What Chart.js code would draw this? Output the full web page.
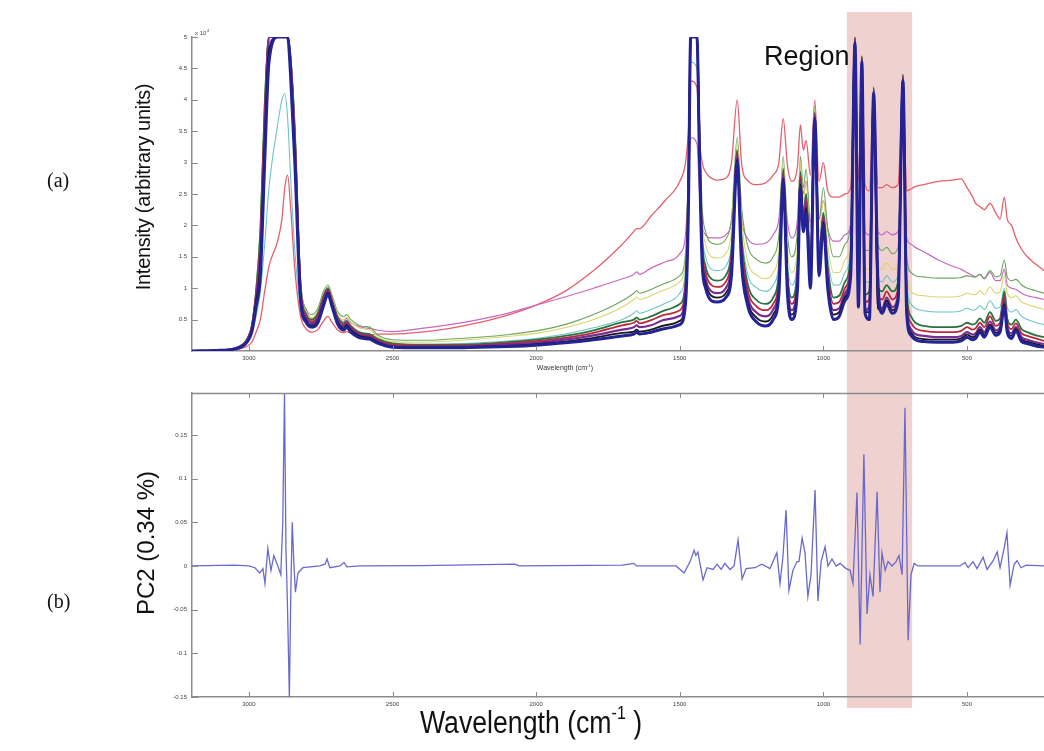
<!DOCTYPE html>
<html>
<head>
<meta charset="utf-8">
<script src="https://cdn.jsdelivr.net/npm/chart.js@4.4.1/dist/chart.umd.min.js"></script>
<style>
  html, body { margin: 0; padding: 0; background: #fff; }
  #wrap { position: relative; width: 1044px; height: 751px; overflow: hidden; background: #fff; }
  canvas { position: absolute; left: 0; }
  #specCanvas { top: 0; }
  #pcCanvas { top: 380px; }
  .lbl { position: absolute; white-space: nowrap; color: #111; line-height: 1; }
  .rot { transform: translate(-50%, -50%) rotate(-90deg); }
  .ctr { transform: translate(-50%, -50%); }
  .panel { font-family: "Liberation Serif", "Times New Roman", serif; font-size: 20px; }
  .sans { font-family: "Liberation Sans", Arial, sans-serif; }
  sup { font-size: 0.6em; vertical-align: 0.7em; line-height: 0; }
</style>
</head>
<body>
<div id="wrap">
  <canvas id="specCanvas" width="1044" height="380"></canvas>
  <canvas id="pcCanvas" width="1044" height="371"></canvas>

  <div class="lbl panel" style="left:47px; top:170px;">(a)</div>
  <div class="lbl panel" style="left:47px; top:591px;">(b)</div>

  <div class="lbl sans rot" style="left:143px; top:187px; font-size:20px; letter-spacing:-0.3px;">Intensity (arbitrary units)</div>
  <div class="lbl sans rot" style="left:146px; top:543px; font-size:24px;">PC2 (0.34 %)</div>

  <div class="lbl sans" style="left:764px; top:43px; font-size:27px;">Region</div>

  <div class="lbl sans ctr" style="left:565px; top:367px; font-size:7px; color:#333;">Wavelength (cm<sup>-1</sup>)</div>
  <div class="lbl sans" style="left:531px; top:722px; font-size:31px; transform:translate(-50%,-50%) scaleX(0.86);">Wavelength (cm<sup>-1</sup> )</div>
</div>

<script>
// ---- Raman spectra: shared wavenumber grid (cm^-1) ----
const WAVENUMBERS = [
  3198,3100,3050,3020,3005, 2990,2975,2960,2945,2930, 2900,2885,2875,2865,2855,
  2840,2820,2800,2780,2760, 2740,2725,2710,2690,2670, 2660,2645,2620,2600,2580,
  2550,2500,2400,2300,2200, 2100,2000,1900,1800,1700, 1660,1650,1640,1600,1550,
  1500,1480,1470,1462,1440, 1432,1422,1410,1390,1370, 1340,1320,1300,1285,1265,
  1230,1200,1175,1155,1140, 1125,1110,1090,1080,1070, 1060,1045,1030,1015,1000,
  985,965,945,925,905, 890,878,866,855,840, 825,810,795,780,760,
  740,723,710,695,680, 650,600,550,520,500, 480,470,455,440,420,
  400,385,370,360,345, 330,310,290,260,232
];

// intensities in units of 10^4 (clipped at detector saturation = 5)
const SPEC_NAVY = [
  0.00,0.01,0.03,0.08,0.15, 0.30,0.70,1.20,3.00,4.60, 5.00,5.00,5.00,5.00,4.40,
  3.00,0.80,0.45,0.38,0.45, 0.72,0.90,0.70,0.42,0.33, 0.38,0.30,0.22,0.20,0.19,
  0.12,0.06,0.05,0.05,0.06, 0.07,0.09,0.13,0.18,0.24, 0.27,0.30,0.27,0.30,0.36,
  0.42,0.75,2.20,5.00,5.00, 3.20,1.40,1.00,0.80,0.78, 0.85,1.20,3.00,1.40,0.75,
  0.45,0.40,0.50,0.90,2.70, 0.90,0.50,1.00,2.60,1.90, 2.20,1.00,3.70,1.20,2.00,
  1.00,0.50,0.55,0.80,1.20, 4.90,0.70,4.60,0.60,0.50, 4.10,1.10,0.60,0.75,0.60,
  0.80,4.30,0.60,0.25,0.18, 0.15,0.14,0.14,0.16,0.22, 0.18,0.20,0.30,0.22,0.38,
  0.25,0.30,0.70,0.30,0.20, 0.32,0.15,0.12,0.08,0.06
];
const SPEC_BLACK = [
  0.00,0.01,0.03,0.09,0.16, 0.33,0.78,1.40,3.30,4.80, 5.00,5.00,5.00,5.00,4.50,
  3.10,0.88,0.48,0.41,0.48, 0.76,0.93,0.73,0.45,0.36, 0.41,0.33,0.25,0.22,0.21,
  0.14,0.07,0.06,0.06,0.07, 0.08,0.11,0.15,0.21,0.29, 0.31,0.34,0.31,0.34,0.41,
  0.48,0.85,2.35,5.00,5.00, 3.30,1.50,1.08,0.88,0.85, 0.92,1.30,3.05,1.50,0.82,
  0.52,0.47,0.58,0.98,2.75, 0.98,0.58,1.08,2.65,1.95, 2.28,1.08,3.72,1.28,2.05,
  1.08,0.58,0.62,0.86,1.28, 4.92,0.78,4.62,0.62,0.62, 4.12,0.68,0.64,0.80,0.65,
  0.85,4.32,0.65,0.30,0.22, 0.19,0.18,0.18,0.20,0.26, 0.22,0.24,0.34,0.26,0.42,
  0.29,0.34,0.75,0.34,0.24, 0.35,0.18,0.15,0.11,0.08
];
const SPEC_PURPLE = [
  0.00,0.01,0.04,0.10,0.18, 0.36,0.85,1.60,3.50,5.00, 5.00,5.00,5.00,5.00,4.60,
  3.30,0.95,0.52,0.44,0.52, 0.82,0.96,0.76,0.48,0.39, 0.44,0.36,0.27,0.24,0.23,
  0.15,0.08,0.07,0.07,0.08, 0.10,0.13,0.18,0.25,0.34, 0.38,0.41,0.38,0.41,0.50,
  0.56,0.95,2.50,5.00,5.00, 3.40,1.60,1.15,0.95,0.92, 1.00,1.40,3.10,1.60,0.90,
  0.60,0.55,0.66,1.05,2.80, 1.05,0.65,1.15,2.70,2.00, 2.35,1.15,3.75,1.35,2.10,
  1.15,0.65,0.68,0.92,1.35, 4.95,0.85,4.65,0.65,0.70, 4.15,0.75,0.68,0.85,0.70,
  0.90,4.35,0.70,0.35,0.27, 0.24,0.22,0.22,0.24,0.30, 0.26,0.28,0.38,0.30,0.47,
  0.33,0.38,0.80,0.38,0.28, 0.38,0.22,0.18,0.14,0.11
];
const SPEC_CRIMSON = [
  0.00,0.01,0.04,0.10,0.19, 0.38,0.90,1.75,3.70,5.00, 5.00,5.00,5.00,5.00,4.65,
  3.40,1.00,0.55,0.47,0.56, 0.85,0.98,0.78,0.50,0.41, 0.46,0.38,0.29,0.26,0.25,
  0.17,0.10,0.085,0.085,0.095, 0.12,0.155,0.21,0.29,0.41, 0.45,0.48,0.44,0.49,0.58,
  0.65,1.05,2.65,5.00,5.00, 3.50,1.70,1.25,1.05,1.02, 1.10,1.50,3.15,1.70,1.00,
  0.70,0.65,0.75,1.15,2.85, 1.15,0.75,1.25,2.78,2.08, 2.42,1.25,3.78,1.45,2.15,
  1.25,0.75,0.78,1.00,1.45, 4.98,0.95,4.68,0.78,0.82, 4.18,0.88,0.82,0.95,0.82,
  1.00,4.38,0.82,0.45,0.36, 0.32,0.30,0.30,0.32,0.38, 0.34,0.36,0.45,0.38,0.55,
  0.40,0.45,0.88,0.45,0.35, 0.44,0.28,0.24,0.20,0.16
];
const SPEC_DARKGREEN = [
  0.00,0.01,0.04,0.11,0.20, 0.40,0.95,1.90,3.90,5.00, 5.00,5.00,5.00,5.00,4.70,
  3.50,1.05,0.58,0.50,0.60, 0.88,1.00,0.80,0.53,0.44, 0.48,0.40,0.31,0.28,0.27,
  0.19,0.12,0.10,0.10,0.11, 0.14,0.18,0.24,0.33,0.46, 0.50,0.53,0.50,0.55,0.65,
  0.75,1.10,2.80,5.00,5.00, 3.60,1.80,1.35,1.15,1.12, 1.20,1.60,3.20,1.80,1.10,
  0.80,0.75,0.85,1.25,2.90, 1.25,0.85,1.35,2.85,2.15, 2.50,1.35,3.80,1.55,2.20,
  1.35,0.85,0.88,1.10,1.55, 5.00,1.10,4.70,0.90,0.95, 4.20,1.00,0.95,1.05,0.95,
  1.10,4.40,0.95,0.55,0.45, 0.40,0.38,0.38,0.40,0.45, 0.42,0.44,0.52,0.45,0.62,
  0.48,0.52,0.95,0.52,0.42, 0.50,0.35,0.30,0.25,0.22
];
const SPEC_CYAN = [
  0.00,0.01,0.03,0.08,0.14, 0.26,0.55,0.95,1.70,2.60, 3.60,4.00,4.10,3.70,2.80,
  1.60,0.70,0.48,0.44,0.55, 0.78,0.88,0.72,0.48,0.40, 0.44,0.37,0.30,0.28,0.27,
  0.17,0.11,0.10,0.11,0.13, 0.16,0.20,0.27,0.37,0.50, 0.60,0.64,0.60,0.66,0.76,
  0.92,1.30,2.60,4.60,4.50, 3.30,1.90,1.50,1.30,1.28, 1.35,1.70,3.10,1.90,1.25,
  1.00,0.95,1.05,1.40,2.80, 1.40,1.05,1.50,2.80,2.20, 2.50,1.50,3.70,1.70,2.20,
  1.50,1.05,1.05,1.25,1.65, 4.80,1.30,4.50,1.10,1.10, 4.00,1.20,1.10,1.20,1.10,
  1.20,4.20,1.10,0.75,0.68, 0.64,0.62,0.62,0.64,0.68, 0.65,0.66,0.72,0.66,0.80,
  0.68,0.70,1.00,0.70,0.62, 0.66,0.55,0.50,0.45,0.42
];
const SPEC_YELLOW = [
  0.00,0.01,0.04,0.11,0.20, 0.42,1.00,2.00,4.00,5.00, 5.00,5.00,5.00,5.00,4.70,
  3.60,1.10,0.62,0.53,0.64, 0.90,1.02,0.84,0.58,0.50, 0.54,0.46,0.38,0.35,0.34,
  0.22,0.15,0.14,0.16,0.19, 0.23,0.28,0.37,0.50,0.70, 0.82,0.86,0.82,0.88,0.98,
  1.10,1.45,2.90,5.00,5.00, 3.70,2.10,1.70,1.50,1.48, 1.55,1.90,3.30,2.10,1.45,
  1.20,1.15,1.25,1.60,3.00, 1.60,1.25,1.70,3.00,2.40, 2.70,1.70,3.85,1.90,2.40,
  1.70,1.25,1.25,1.45,1.85, 5.00,1.50,4.70,1.30,1.30, 4.20,1.40,1.30,1.40,1.30,
  1.40,4.40,1.30,0.95,0.90, 0.88,0.86,0.86,0.88,0.92, 0.90,0.90,0.96,0.90,1.02,
  0.92,0.94,1.20,0.92,0.85, 0.88,0.78,0.74,0.70,0.66
];
const SPEC_OLIVE = [
  0.00,0.01,0.04,0.11,0.20, 0.42,1.00,2.00,4.00,5.00, 5.00,5.00,5.00,5.00,4.70,
  3.60,1.15,0.66,0.58,0.68, 0.95,1.05,0.88,0.62,0.55, 0.58,0.50,0.42,0.39,0.38,
  0.25,0.18,0.17,0.19,0.22, 0.26,0.32,0.42,0.58,0.80, 0.92,0.96,0.92,0.98,1.08,
  1.20,1.55,3.00,5.00,5.00, 3.80,2.30,1.90,1.72,1.70, 1.78,2.10,3.40,2.30,1.70,
  1.45,1.40,1.50,1.85,3.10, 1.85,1.50,1.95,3.10,2.60, 2.90,1.95,3.90,2.10,2.60,
  1.95,1.50,1.50,1.70,2.05, 5.00,1.80,4.70,1.60,1.60, 4.20,1.70,1.60,1.65,1.55,
  1.65,4.40,1.50,1.25,1.20, 1.18,1.16,1.16,1.17,1.20, 1.18,1.18,1.22,1.16,1.28,
  1.18,1.20,1.45,1.18,1.12, 1.14,1.05,1.00,0.96,0.92
];
const SPEC_MAGENTA = [
  0.00,0.01,0.04,0.10,0.18, 0.38,0.90,1.70,3.60,4.90, 5.00,5.00,5.00,5.00,4.50,
  3.30,1.10,0.65,0.52,0.60, 0.85,0.95,0.78,0.55,0.47, 0.52,0.45,0.40,0.37,0.36,
  0.33,0.31,0.36,0.42,0.50, 0.60,0.73,0.86,1.00,1.15, 1.22,1.26,1.22,1.32,1.42,
  1.55,1.85,2.60,3.40,3.30, 2.60,2.00,1.85,1.80,1.80, 1.85,2.05,3.00,2.10,1.80,
  1.70,1.72,1.85,2.10,2.90, 2.05,1.80,2.10,2.90,2.50, 2.70,2.05,3.30,2.10,2.40,
  1.95,1.75,1.75,1.85,2.00, 3.60,1.95,3.40,1.90,1.85, 3.20,1.90,1.85,1.90,1.85,
  1.90,3.30,1.80,1.70,1.65, 1.58,1.45,1.35,1.30,1.25, 1.20,1.18,1.22,1.15,1.25,
  1.12,1.12,1.30,1.05,1.00, 0.98,0.92,0.88,0.85,0.82
];
const SPEC_RED = [
  0.00,0.01,0.02,0.05,0.08, 0.14,0.30,0.50,0.95,1.35, 1.75,2.10,2.60,2.80,2.30,
  1.30,0.55,0.35,0.30,0.34, 0.48,0.55,0.45,0.33,0.29, 0.31,0.28,0.26,0.26,0.26,
  0.27,0.27,0.30,0.36,0.45, 0.57,0.73,0.95,1.28,1.70, 1.90,1.95,1.95,2.15,2.40,
  2.70,3.00,3.50,4.30,4.20, 3.40,3.00,2.85,2.75,2.72, 2.75,3.00,4.00,3.00,2.72,
  2.65,2.68,2.80,3.00,3.70, 2.95,2.70,2.95,3.60,3.20, 3.35,2.80,4.00,2.70,3.00,
  2.55,2.45,2.45,2.50,2.60, 4.80,2.70,4.50,2.65,2.55, 4.10,2.60,2.60,2.65,2.60,
  2.65,4.20,2.55,2.58,2.62, 2.65,2.70,2.72,2.74,2.60, 2.45,2.35,2.30,2.25,2.35,
  2.20,2.10,2.45,2.10,2.00, 1.80,1.62,1.50,1.38,1.28
];

// ---- PC2 loading ----
const PC2_WN = [
  3198,3050,3000,2979,2962,2951,2944,2934,2923,2913,2899,2889,2882,2876,2871,2866,2859,2854,2849,2843,
  2838,2829,2812,2753,2735,2728,2718,2683,2669,2659,2614,2400,2074,2060,1700,1660,1650,1513,1485,1464,
  1450,1444,1437,1419,1405,1384,1370,1356,1343,1325,1311,1297,1283,1269,1238,1214,1186,1162,1151,1141,
  1130,1120,1106,1092,1085,1074,1064,1054,1043,1029,1019,1008,994,984,970,956,942,921,907,897,
  883,872,859,848,838,827,813,803,796,785,775,761,747,737,726,716,705,695,684,671,
  524,507,496,479,465,444,430,409,395,385,371,361,350,336,326,312,294,232
];
const PC2_VAL = [
  0,0.001,0,-0.002,-0.008,-0.003,-0.02,0.02,-0.005,0.012,0,-0.01,0.05,0.198,0.02,-0.04,-0.15,-0.03,0.05,0,
  -0.03,-0.008,-0.002,0,0.002,0.008,-0.002,0,0.004,-0.001,0,0.0005,0.002,0,0.001,0.003,0,0,-0.008,0.005,
  0.018,0.012,0.016,-0.016,-0.002,-0.004,0.002,-0.004,0.003,-0.004,0,0.03,-0.015,-0.003,-0.002,0.002,-0.003,0.015,-0.02,0.01,
  0.064,-0.028,-0.005,0.005,0.005,0.032,0.015,-0.035,-0.01,0.087,-0.04,0.005,0.022,0,0.008,0,0.003,-0.003,-0.005,-0.02,
  0.084,-0.09,0.128,-0.055,-0.01,-0.035,0.085,-0.03,0.015,-0.005,0.005,0,0.005,0.012,-0.01,0.181,-0.085,-0.01,0.003,0,
  0,0.004,-0.002,0.005,-0.003,0.01,-0.004,0.006,0.016,-0.002,0.02,0.038,-0.022,0.002,0.006,-0.002,0.001,0
];

const X_TICKS = [3000, 2500, 2000, 1500, 1000, 500];
const INTENSITY_TICKS = [0.5, 1, 1.5, 2, 2.5, 3, 3.5, 4, 4.5, 5];
const PC2_TICKS = [-0.15, -0.1, -0.05, 0, 0.05, 0.1, 0.15];
const REGION = [691, 918];
const X_RANGE = [232, 3198];

const AXIS_GREY = '#8c8c8c';
const TICK_FONT = { family: 'Liberation Sans, Arial, sans-serif', size: 6 };

const asPoints = (xs, ys) => xs.map((x, i) => ({ x, y: ys[i] }));

// shaded band for the marked spectral region
const regionBand = {
  id: 'regionBand',
  beforeDraw(chart, args, opts) {
    const { ctx } = chart;
    const x = chart.scales.x;
    const a = x.getPixelForValue(REGION[1]);
    const b = x.getPixelForValue(REGION[0]);
    ctx.save();
    ctx.fillStyle = 'rgba(214,140,136,0.40)';
    ctx.fillRect(a, opts.y0, b - a, opts.y1 - opts.y0);
    ctx.restore();
  }
};

// inward tick marks, optional top frame line, exponent note
const frameTicks = {
  id: 'frameTicks',
  afterDraw(chart, args, opts) {
    const { ctx, chartArea: ca } = chart;
    const x = chart.scales.x, y = chart.scales.y;
    ctx.save();
    ctx.strokeStyle = AXIS_GREY;
    ctx.lineWidth = 1;
    ctx.beginPath();
    X_TICKS.forEach(v => {
      const px = Math.round(x.getPixelForValue(v)) + 0.5;
      ctx.moveTo(px, ca.bottom); ctx.lineTo(px, ca.bottom - 5);
      if (opts.topFrame) { ctx.moveTo(px, ca.top); ctx.lineTo(px, ca.top + 5); }
    });
    opts.yTicks.forEach(v => {
      const py = Math.round(y.getPixelForValue(v)) + 0.5;
      ctx.moveTo(ca.left, py); ctx.lineTo(ca.left + 6, py);
    });
    ctx.stroke();
    if (opts.topFrame) {
      ctx.lineWidth = 1.5;
      ctx.beginPath();
      ctx.moveTo(ca.left, ca.top + 0.5); ctx.lineTo(ca.right, ca.top + 0.5);
      ctx.stroke();
    }
    if (opts.exponent) {
      ctx.fillStyle = '#444';
      ctx.font = '6px Liberation Sans, Arial, sans-serif';
      ctx.textBaseline = 'alphabetic';
      ctx.fillText('x 10', ca.left + 3, ca.top - 2);
      ctx.font = '4px Liberation Sans, Arial, sans-serif';
      ctx.fillText('4', ca.left + 15, ca.top - 5);
    }
    ctx.restore();
  }
};

function xScale(height) {
  return {
    type: 'linear', reverse: true, min: X_RANGE[0], max: X_RANGE[1],
    grid: { display: false, drawTicks: false },
    border: { display: true, color: AXIS_GREY, width: 1.5 },
    ticks: { font: TICK_FONT, color: '#444', padding: 4, maxRotation: 0, autoSkip: false, callback: v => String(v) },
    afterBuildTicks: s => { s.ticks = X_TICKS.map(v => ({ value: v })); },
    afterFit: s => { s.height = height; }
  };
}
function yScale(min, max, ticks) {
  return {
    type: 'linear', min, max,
    grid: { display: false, drawTicks: false },
    border: { display: true, color: AXIS_GREY, width: 1.5 },
    ticks: { font: TICK_FONT, color: '#444', padding: 5, callback: v => String(v) },
    afterBuildTicks: s => { s.ticks = ticks.map(v => ({ value: v })); },
    afterFit: s => { s.width = 192; }
  };
}

// first entry is drawn on top
const spectra = [
  { data: SPEC_NAVY, color: 'rgb(35,35,150)', w: 3 },
  { data: SPEC_BLACK, color: 'rgb(25,25,30)', w: 1.8 },
  { data: SPEC_PURPLE, color: 'rgb(120,45,150)', w: 2.2 },
  { data: SPEC_CRIMSON, color: 'rgb(185,40,60)', w: 1.8 },
  { data: SPEC_DARKGREEN, color: 'rgb(40,115,60)', w: 1.8 },
  { data: SPEC_CYAN, color: 'rgb(110,195,200)', w: 1.1 },
  { data: SPEC_YELLOW, color: 'rgb(215,215,110)', w: 1.1 },
  { data: SPEC_OLIVE, color: 'rgb(110,165,95)', w: 1.1 },
  { data: SPEC_MAGENTA, color: 'rgb(200,105,190)', w: 1.2 },
  { data: SPEC_RED, color: 'rgb(230,95,110)', w: 1.3 }
];

new Chart(document.getElementById('specCanvas'), {
  type: 'line',
  data: {
    datasets: spectra.map(s => ({
      data: asPoints(WAVENUMBERS, s.data),
      borderColor: s.color, borderWidth: s.w,
      pointRadius: 0, cubicInterpolationMode: 'monotone', fill: false
    }))
  },
  options: {
    responsive: false, animation: false, devicePixelRatio: 1,
    layout: { padding: { top: 37, left: 0, right: 0, bottom: 0 }, autoPadding: false },
    plugins: {
      legend: { display: false }, tooltip: { enabled: false },
      regionBand: { y0: 12, y1: 380 },
      frameTicks: { yTicks: INTENSITY_TICKS, topFrame: false, exponent: true }
    },
    scales: {
      x: xScale(29),
      y: yScale(0, 5, INTENSITY_TICKS)
    }
  },
  plugins: [regionBand, frameTicks]
});

new Chart(document.getElementById('pcCanvas'), {
  type: 'line',
  data: {
    datasets: [{
      data: asPoints(PC2_WN, PC2_VAL),
      borderColor: 'rgb(105,105,205)', borderWidth: 1.3,
      pointRadius: 0, tension: 0, fill: false
    }]
  },
  options: {
    responsive: false, animation: false, devicePixelRatio: 1,
    layout: { padding: { top: 13, left: 0, right: 0, bottom: 0 }, autoPadding: false },
    plugins: {
      legend: { display: false }, tooltip: { enabled: false },
      regionBand: { y0: 0, y1: 328 },
      frameTicks: { yTicks: PC2_TICKS, topFrame: true, exponent: false }
    },
    scales: {
      x: xScale(54),
      y: yScale(-0.15, 0.198, PC2_TICKS)
    }
  },
  plugins: [regionBand, frameTicks]
});
</script>
</body>
</html>
